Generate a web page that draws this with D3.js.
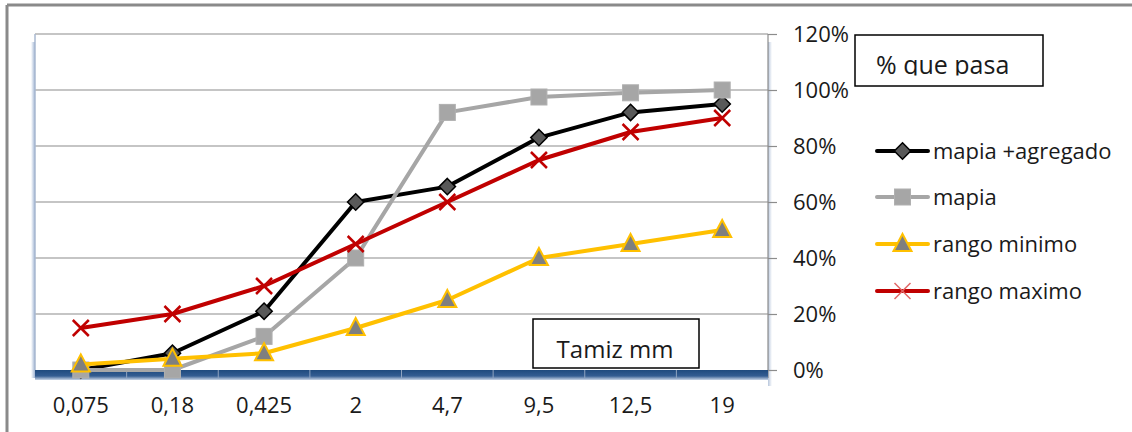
<!DOCTYPE html>
<html>
<head>
<meta charset="utf-8">
<script src="https://cdn.jsdelivr.net/npm/d3@7"></script>
<style>
  body { margin: 0; background: #fff; }
  text { font-family: "Open Sans", "Noto Sans", sans-serif; fill: #1a1a1a; }
</style>
</head>
<body>
<div id="chart"></div>
<script>
// datos
var tamices = ["0,075", "0,18", "0,425", "2", "4,7", "9,5", "12,5", "19"];
var mapiaAgregado = [0, 6, 21, 60, 65.5, 83, 92, 95];
var mapia = [0, 0, 12, 40, 92, 97.5, 99, 100];
var rangoMinimo = [2, 4, 6, 15, 25, 40, 45, 50];
var rangoMaximo = [15, 20, 30, 45, 60, 75, 85, 90];
var yTicks = [0, 20, 40, 60, 80, 100, 120];

var W = 1132, H = 432;
var plot = {left: 35, right: 768, top: 34, bottom: 370};

var svg = d3.select("#chart").append("svg")
  .attr("width", W).attr("height", H);

var defs = svg.append("defs");
var gFloor = defs.append("linearGradient").attr("id", "floor")
  .attr("x1", 0).attr("y1", 0).attr("x2", 0).attr("y2", 1);
gFloor.append("stop").attr("offset", "0%").attr("stop-color", "#1f4a7e");
gFloor.append("stop").attr("offset", "60%").attr("stop-color", "#345d92");
gFloor.append("stop").attr("offset", "100%").attr("stop-color", "#c9d5e6");
var gLeft = defs.append("linearGradient").attr("id", "lshadow")
  .attr("x1", 0).attr("y1", 0).attr("x2", 1).attr("y2", 0);
gLeft.append("stop").attr("offset", "0%").attr("stop-color", "#ffffff");
gLeft.append("stop").attr("offset", "100%").attr("stop-color", "#9fb4d3");
var gRight = defs.append("linearGradient").attr("id", "rshadow")
  .attr("x1", 0).attr("y1", 0).attr("x2", 1).attr("y2", 0);
gRight.append("stop").attr("offset", "0%").attr("stop-color", "#b7c6dc");
gRight.append("stop").attr("offset", "100%").attr("stop-color", "#ffffff");

// marco exterior
svg.append("line").attr("x1", 7).attr("x2", W).attr("y1", 5).attr("y2", 5)
  .attr("stroke", "#8a8a8a").attr("stroke-width", 3);
svg.append("line").attr("x1", 7).attr("x2", 7).attr("y1", 5).attr("y2", H)
  .attr("stroke", "#8a8a8a").attr("stroke-width", 3);

var x = d3.scaleBand().domain(tamices).range([plot.left, plot.right]);
var y = d3.scaleLinear().domain([0, 120]).range([plot.bottom, plot.top]);
var cx = function(i) { return x(tamices[i]) + x.bandwidth() / 2; };

// sombras de paredes
svg.append("rect").attr("x", plot.left - 4).attr("y", plot.top + 8)
  .attr("width", 4).attr("height", plot.bottom - plot.top)
  .attr("fill", "url(#lshadow)");
svg.append("rect").attr("x", plot.right).attr("y", plot.top + 8)
  .attr("width", 4).attr("height", plot.bottom - plot.top + 8)
  .attr("fill", "url(#rshadow)");

// lineas de division
svg.append("g").selectAll("line").data(yTicks.slice(1)).join("line")
  .attr("x1", plot.left).attr("x2", plot.right)
  .attr("y1", function(d) { return y(d); }).attr("y2", function(d) { return y(d); })
  .attr("stroke", "#8c8c8c").attr("stroke-width", 1.2);

// pared izquierda
svg.append("line").attr("x1", plot.left).attr("x2", plot.left)
  .attr("y1", plot.top).attr("y2", plot.bottom)
  .attr("stroke", "#a9b9d0").attr("stroke-width", 1.5);

// eje y (derecha)
var yAxis = d3.axisRight(y).tickValues(yTicks)
  .tickFormat(function(d) { return d + "%"; })
  .tickSize(9).tickPadding(16);
var gy = svg.append("g").attr("transform", "translate(" + plot.right + ",0)").call(yAxis);
gy.select(".domain").attr("stroke", "#8c8c8c").attr("stroke-width", 1.2)
  .attr("d", "M0," + plot.top + "V" + (plot.bottom + 8));
gy.selectAll(".tick line").attr("stroke", "#8c8c8c").attr("stroke-width", 1.2);
gy.selectAll(".tick text").style("font-size", "22px").attr("fill", "#1a1a1a");

// piso azul
svg.append("rect").attr("x", plot.left).attr("y", plot.bottom)
  .attr("width", plot.right - plot.left).attr("height", 10)
  .attr("fill", "url(#floor)");
svg.append("g").selectAll("line").data(tamices.slice(1)).join("line")
  .attr("x1", function(d) { return x(d); }).attr("x2", function(d) { return x(d); })
  .attr("y1", plot.bottom).attr("y2", plot.bottom + 8)
  .attr("stroke", "#8ea3c0").attr("stroke-width", 1);

// eje x
var xAxis = d3.axisBottom(x).tickSize(0).tickPadding(0);
var gx = svg.append("g").attr("transform", "translate(0," + (plot.bottom + 27) + ")").call(xAxis);
gx.select(".domain").remove();
gx.selectAll(".tick text").style("font-size", "22px").attr("fill", "#1a1a1a");

// series
var series = [
  {name: "mapia +agregado", values: mapiaAgregado, color: "#000000", marker: "diamond"},
  {name: "mapia", values: mapia, color: "#a6a6a6", marker: "square"},
  {name: "rango minimo", values: rangoMinimo, color: "#ffc000", marker: "triangle"},
  {name: "rango maximo", values: rangoMaximo, color: "#c00000", marker: "cross"}
];

var line = d3.line()
  .x(function(d, i) { return cx(i); })
  .y(function(d) { return y(d); });

function drawMarker(g, s, px, py, legend) {
  if (s.marker === "diamond") {
    g.append("path").attr("d", d3.symbol(d3.symbolDiamond2, 170)())
      .attr("transform", "translate(" + px + "," + py + ")")
      .attr("fill", "#595959").attr("stroke", "#000").attr("stroke-width", 1.5);
  } else if (s.marker === "square") {
    g.append("rect").attr("x", px - 8).attr("y", py - 8).attr("width", 16).attr("height", 16)
      .attr("fill", "#a6a6a6").attr("stroke", "#b0b0b0").attr("stroke-width", 1);
  } else if (s.marker === "triangle") {
    g.append("path").attr("d", "M" + px + "," + (py - 10) + "L" + (px + 9) + "," + (py + 7) + "L" + (px - 9) + "," + (py + 7) + "Z")
      .attr("fill", "#7f7f7f").attr("stroke", "#ffc000").attr("stroke-width", 2);
  } else {
    var r = 8;
    g.append("path").attr("d", "M" + (px - r) + "," + (py - r) + "L" + (px + r) + "," + (py + r) + "M" + (px + r) + "," + (py - r) + "L" + (px - r) + "," + (py + r))
      .attr("stroke", legend ? "#e06666" : "#c00000").attr("stroke-width", legend ? 1.5 : 2.5);
  }
}

series.forEach(function(s) {
  var g = svg.append("g");
  g.append("path").datum(s.values).attr("d", line)
    .attr("fill", "none").attr("stroke", s.color).attr("stroke-width", 4)
    .attr("stroke-linejoin", "round");
  s.values.forEach(function(v, i) { drawMarker(g, s, cx(i), y(v), false); });
});

// leyenda
var legY = [151, 197, 244, 291];
series.forEach(function(s, i) {
  var g = svg.append("g");
  g.append("line").attr("x1", 877).attr("x2", 928).attr("y1", legY[i]).attr("y2", legY[i])
    .attr("stroke", s.color).attr("stroke-width", 4).attr("stroke-linecap", "round");
  drawMarker(g, s, 902.5, legY[i], true);
  g.append("text").attr("x", 933).attr("y", legY[i]).attr("dy", "0.35em")
    .style("font-size", "22px").text(s.name);
});

// cuadros de texto
svg.append("clipPath").attr("id", "clipq").append("rect")
  .attr("x", 855).attr("y", 35).attr("width", 188).attr("height", 40.5);
svg.append("rect").attr("x", 855).attr("y", 35).attr("width", 188).attr("height", 51)
  .attr("fill", "#fff").attr("stroke", "#000").attr("stroke-width", 1.5);
svg.append("text").attr("x", 876).attr("y", 74).attr("clip-path", "url(#clipq)")
  .style("font-size", "25px").text("% que pasa");

svg.append("rect").attr("x", 533).attr("y", 319).attr("width", 166).attr("height", 49)
  .attr("fill", "#fff").attr("stroke", "#000").attr("stroke-width", 1.5);
svg.append("text").attr("x", 615).attr("y", 358).attr("text-anchor", "middle")
  .style("font-size", "24px").text("Tamiz mm");
</script>
</body>
</html>
